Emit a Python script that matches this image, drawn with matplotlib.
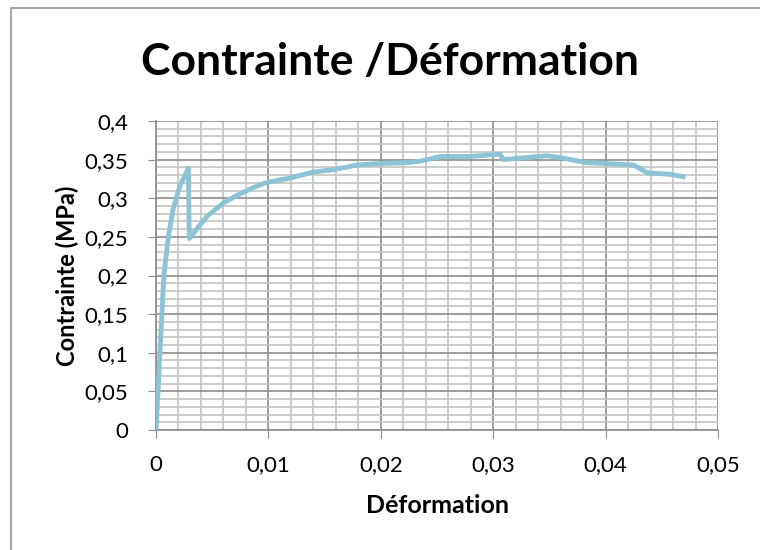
import matplotlib.pyplot as plt
from matplotlib.lines import Line2D
from matplotlib.ticker import MultipleLocator, FuncFormatter

# courbe contrainte / deformation
deformation = [0.0, 0.0007, 0.0011, 0.0015, 0.0021, 0.00288, 0.00296,
               0.0035, 0.0045, 0.006, 0.0075, 0.009, 0.010, 0.0119, 0.014,
               0.0158, 0.0179, 0.0199, 0.0223, 0.0235, 0.0253, 0.0279, 0.0306,
               0.0309, 0.0324, 0.0348, 0.0362, 0.0383, 0.0401, 0.0425, 0.0437,
               0.0457, 0.0469]
contrainte = [0.0, 0.20, 0.25, 0.285, 0.315, 0.3387, 0.248,
              0.258, 0.276, 0.294, 0.306, 0.316, 0.321, 0.326, 0.334,
              0.337, 0.343, 0.345, 0.346, 0.348, 0.354, 0.354, 0.357,
              0.350, 0.352, 0.355, 0.352, 0.346, 0.345, 0.343, 0.333,
              0.331, 0.328]

title = "Contrainte /Déformation"
xlabel = "Déformation"
ylabel = "Contrainte (MPa)"

plt.rcParams['font.family'] = ['Lato', 'DejaVu Sans']

fig = plt.figure(figsize=(7.6, 5.5), dpi=100)
# cadre du graphique (bords gauche et haut seulement visibles)
fig.lines.append(Line2D([11 / 760, 11 / 760, 1.0], [0.0, 1 - 8 / 550, 1 - 8 / 550],
                        transform=fig.transFigure, color='#a6a6a6', linewidth=1.5))
ax = fig.add_axes([156 / 760, 1 - 430 / 550, (718 - 156) / 760, (430 - 121) / 550])

ax.plot(deformation, contrainte, color='#8cc3d5', linewidth=3.5, zorder=3)

ax.set_xlim(0, 0.05)
ax.set_ylim(0, 0.4)
ax.xaxis.set_major_locator(MultipleLocator(0.01))
ax.xaxis.set_minor_locator(MultipleLocator(0.002))
ax.yaxis.set_major_locator(MultipleLocator(0.05))
ax.yaxis.set_minor_locator(MultipleLocator(0.01))

fmt = FuncFormatter(lambda v, p: ('%g' % round(v, 3)).replace('.', ','))
ax.xaxis.set_major_formatter(fmt)
ax.yaxis.set_major_formatter(fmt)

ax.grid(which='major', color='#8c8c8c', linewidth=1.2)
ax.grid(which='minor', color='#c4c4c4', linewidth=1.2)
ax.set_axisbelow(True)

for s in ['top', 'right']:
    ax.spines[s].set_visible(False)
ax.spines['left'].set_color('#8c8c8c')
ax.spines['bottom'].set_color('#8c8c8c')
ax.spines['left'].set_linewidth(1.2)
ax.spines['bottom'].set_linewidth(1.2)

ax.tick_params(which='major', direction='out', length=6, color='#8c8c8c',
               labelsize=16)
ax.tick_params(axis='x', which='major', pad=12)
ax.tick_params(axis='y', which='major', pad=14)
ax.tick_params(which='minor', length=0)

ax.set_xlabel(xlabel, fontsize=18, fontweight='bold', labelpad=14)
ax.set_ylabel(ylabel, fontsize=17, fontweight='bold', labelpad=4)
fig.text(390 / 760, 1 - 62 / 550, title, fontsize=32, fontweight='bold',
         ha='center', va='center')

fig.savefig('out.png', dpi=100)
